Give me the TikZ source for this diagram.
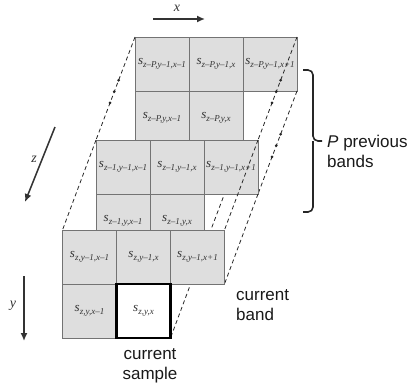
\documentclass[tikz,border=0pt]{standalone}
\usepackage{fontspec}
\newfontfamily\arial{Liberation Sans}
\newfontfamily\serif{Liberation Serif}
\usepackage{tikz}
\usetikzlibrary{positioning,calc,arrows.meta}

\newcommand{\wert}[1]{{\serif\itshape s\raisebox{-2.5pt}{\fontsize{9}{10}\selectfont #1}}}
\newcommand{\mi}{\textendash}

\pgfdeclarelayer{hinten}
\pgfdeclarelayer{mitte}
\pgfsetlayers{hinten,mitte,main}

\begin{document}
\begin{tikzpicture}[x=1pt,y=-1pt,
		zelle/.style={draw=black!55,fill=black!13,line width=0.8pt,minimum width=54pt,minimum height=54pt,inner sep=0pt,outer sep=0pt,text=black!80,font=\fontsize{13}{14}\selectfont},
		probe/.style={zelle,draw=black,fill=white,line width=2.4pt},
		kante/.style={black!85,line width=0.8pt,dash pattern=on 4pt off 3pt},
		achse/.style={black!80,line width=1.5pt,-{Latex[length=8pt,width=7pt]}},
		klammer/.style={black!85,line width=1.6pt,rounded corners=5pt},
		schrift/.style={font=\arial\fontsize{17}{20}\selectfont,inner sep=0pt,text=black!90},
		achsname/.style={font=\serif\itshape\fontsize{14}{16}\selectfont,inner sep=0pt,text=black!80}]
		\useasboundingbox (0,0) rectangle (411,385);

		% Koordinaten
		\coordinate (p) at (135,37);
		\coordinate (q) at (96,140);
		\coordinate (c) at (62.5,230);

		% Ebene z-P
		\begin{pgfonlayer}{hinten}
			\node[zelle,anchor=north west] (p_ul) at (p) {\wert{z\mi P,y\mi1,x\mi1}};
			\node[zelle,right=0pt of p_ul] (p_um) {\wert{z\mi P,y\mi1,x}};
			\node[zelle,right=0pt of p_um] (p_ur) {\wert{z\mi P,y\mi1,x+1}};
			\node[zelle,below=0pt of p_ul] (p_l) {\wert{z\mi P,y,x\mi1}};
			\node[zelle,below=0pt of p_um] (p_m) {\wert{z\mi P,y,x}};
		\end{pgfonlayer}

		% Ebene z-1
		\begin{pgfonlayer}{mitte}
			\node[zelle,anchor=north west] (q_ul) at (q) {\wert{z\mi1,y\mi1,x\mi1}};
			\node[zelle,right=0pt of q_ul] (q_um) {\wert{z\mi1,y\mi1,x}};
			\node[zelle,right=0pt of q_um] (q_ur) {\wert{z\mi1,y\mi1,x+1}};
			\node[zelle,below=0pt of q_ul] (q_l) {\wert{z\mi1,y,x\mi1}};
			\node[zelle,below=0pt of q_um] (q_m) {\wert{z\mi1,y,x}};
		\end{pgfonlayer}

		% Ebene z (aktuell)
		\node[zelle,anchor=north west] (c_ul) at (c) {\wert{z,y\mi1,x\mi1}};
		\node[zelle,right=0pt of c_ul] (c_um) {\wert{z,y\mi1,x}};
		\node[zelle,right=0pt of c_um] (c_ur) {\wert{z,y\mi1,x+1}};
		\node[zelle,below=0pt of c_ul] (c_l) {\wert{z,y,x\mi1}};
		\node[probe,below=0pt of c_um] (c_m) {\wert{z,y,x}};

		% Linien z-P -> z-1
		\begin{pgfonlayer}{hinten}
			\draw[kante] (p_ul.north west) -- (q_ul.north west);
			\draw[kante] (p_ur.north east) -- (q_ur.north east);
			\draw[kante] (p_ur.south east) -- (q_ur.south east);
			\draw[kante] (p_m.south east) -- (q_m.south east);
			\foreach \t in {.42,.53,.64} {
				\fill[black!85] ($(p_ul.north west)!\t!(q_ul.north west)$) circle (1.5);
				\fill[black!85] ($(p_ur.north east)!\t!(q_ur.north east)$) circle (1.5);
				\fill[black!85] ($(p_ur.south east)!\t!(q_ur.south east)$) circle (1.5);
			}
		\end{pgfonlayer}

		% Linien z-1 -> z
		\begin{pgfonlayer}{mitte}
			\draw[kante] (q_ul.north west) -- (c_ul.north west);
			\draw[kante] (q_ur.north east) -- (c_ur.north east);
			\draw[kante] (q_ur.south east) -- (c_ur.south east);
			\draw[kante] (q_m.south east) -- (c_m.south east);
		\end{pgfonlayer}

		% Achsen
		\coordinate (x_a) at (153,19);
		\coordinate (x_e) at (205,19);
		\coordinate (z_a) at (55,127);
		\coordinate (z_e) at (25,202);
		\coordinate (y_a) at (24,276);
		\coordinate (y_e) at (24,341);
		\draw[achse] (x_a) -- (x_e);
		\draw[achse] (z_a) -- (z_e);
		\draw[achse] (y_a) -- (y_e);
		\node[achsname] (x_l) at (177,8) {x};
		\node[achsname] (z_l) at (34,159) {z};
		\node[achsname] (y_l) at (13,306) {y};

		% Klammer
		\coordinate (k_o) at (303,70);
		\coordinate (k_m) at (313,141);
		\coordinate (k_s) at (322,141);
		\coordinate (k_u) at (303,212);
		\draw[klammer] (k_o) -| (k_m) -- (k_s);
		\draw[klammer] (k_u) -| (k_m);

		% Texte
		\node[schrift,anchor=base west,align=left] (band) at (236,320) {current\\band};
		\node[schrift,anchor=base,align=center] (sample) at (150,379) {current\\sample};
		\node[schrift,anchor=base west,align=left] (vorher) at (327,167) {\textit{P} previous\\bands};
	\end{tikzpicture}
\end{document}
